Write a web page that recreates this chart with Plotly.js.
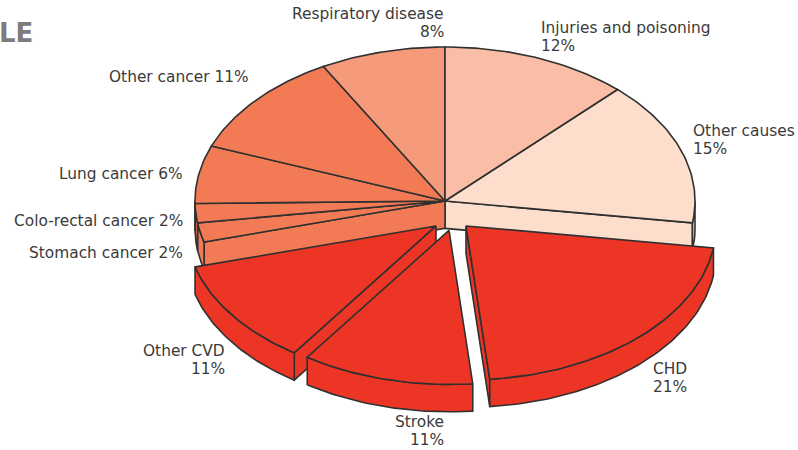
<!DOCTYPE html>
<html><head><meta charset="utf-8">
<script src="https://cdn.plot.ly/plotly-3.0.1.min.js"></script>
<style>html,body{margin:0;padding:0;background:#fff}#c{width:798px;height:450px}</style>
</head><body><div id="c"></div>
<script>
// Data, clockwise from 12 o'clock
const causes = ["Injuries and poisoning","Other causes","CHD","Stroke","Other CVD","Stomach cancer","Colo-rectal cancer","Lung cancer","Other cancer","Respiratory disease"];
const shares = [12,15,21,11,11,2,2,6,11,8];
const colours = ["#F9BEA5","#FDDDCC","#EC3524","#EC3524","#EC3524","#F27B55","#F27B55","#F27B55","#F27B55","#F59B7B"];
// Explosion of each slice, in pie radii (x, y up)
const pullX = [0,0,0.084,0.016,-0.036,0,0,0,0,0];
const pullY = [0,0,-0.162,-0.191,-0.162,0,0,0,0,0];
const depth = 0.178;
const lineColour = "#303030";

const cx = 445, cy = 201, rx = 250, ry = 154, W = 798, H = 450;
const total = shares.reduce((a,b)=>a+b,0);
const traces = [];
function arc(t0,t1,ox,oy){
  const n = Math.max(2,Math.ceil((t1-t0)*180/Math.PI));
  const xs=[],ys=[];
  for(let i=0;i<=n;i++){const t=t0+(t1-t0)*i/n;xs.push(ox+Math.sin(t));ys.push(oy+Math.cos(t));}
  return [xs,ys];
}
function poly(xs,ys,colour,name){
  traces.push({type:"scatter",mode:"lines",x:xs.concat(xs[0]),y:ys.concat(ys[0]),fill:"toself",fillcolor:colour,
    line:{color:lineColour,width:1.6,shape:"linear"},name:name,hoverinfo:"name",showlegend:false});
}
let cum=0;
const slices = shares.map((s,i)=>{const a=cum/total*2*Math.PI;cum+=s;return {i,a,b:cum/total*2*Math.PI};});
const d = depth;
function drawSlice(sl,walls){
  const {i,a,b}=sl, ox=pullX[i], oy=pullY[i], c=colours[i], n=causes[i];
  (walls||[]).forEach(t=>{
    const ex=ox+Math.sin(t),ey=oy+Math.cos(t);
    poly([ox,ex,ex,ox],[oy,ey,ey-d,oy-d],c,n);
  });
  const r0=Math.max(a,Math.PI/2), r1=Math.min(b,1.5*Math.PI);
  if(r1>r0){
    const [xs,ys]=arc(r0,r1,ox,oy);
    poly(xs.concat(xs.slice().reverse()),ys.concat(ys.slice().reverse().map(v=>v-d)),c,n);
  }
  const [tx,ty]=arc(a,b,ox,oy);
  poly([ox].concat(tx),[oy].concat(ty),c,n);
}
const exploded=[4,2,3];
const wallsOf={1:[slices[1].b],5:[slices[5].a],4:[slices[4].a],2:[slices[2].b]};
[1,5,6,7,8,9,0].forEach(i=>drawSlice(slices[i],wallsOf[i]));
exploded.forEach(i=>drawSlice(slices[i],wallsOf[i]));

const labelLines=[
 ["Respiratory disease",445,14,"right"],["8%",445,32,"right"],
 ["Injuries and poisoning",540,28,"left"],["12%",540,46,"left"],
 ["Other causes",692,131,"left"],["15%",692,149,"left"],
 ["CHD",652,369,"left"],["21%",652,387,"left"],
 ["Stroke",445,422,"right"],["11%",445,440,"right"],
 ["Other CVD",226,351,"right"],["11%",226,369,"right"],
 ["Stomach cancer 2%",184,253,"right"],
 ["Colo-rectal cancer 2%",184,221,"right"],
 ["Lung cancer 6%",184,174,"right"],
 ["Other cancer 11%",250,77,"right"]
];
const annotations=labelLines.map(l=>({text:l[0],xref:"paper",yref:"paper",x:l[1]/W,y:1-l[2]/H,xanchor:l[3],yanchor:"middle",align:l[3],showarrow:false,borderpad:0,
  font:{family:"DejaVu Sans",size:15.4,color:"#3a3a3a"}}));
annotations.push({text:"<b>LE</b>",xref:"paper",yref:"paper",x:34/W,y:1-33/H,xanchor:"right",yanchor:"middle",showarrow:false,borderpad:0,
  font:{family:"DejaVu Sans",size:26,color:"#7c7c7c"}});

Plotly.newPlot("c",traces,{
  width:W,height:H,margin:{l:0,r:0,t:0,b:0},paper_bgcolor:"#fff",plot_bgcolor:"#fff",showlegend:false,
  xaxis:{visible:false,range:[-cx/rx,(W-cx)/rx],fixedrange:true},
  yaxis:{visible:false,range:[-(H-cy)/ry,cy/ry],fixedrange:true},
  annotations:annotations
},{displayModeBar:false,staticPlot:true});
</script></body></html>
